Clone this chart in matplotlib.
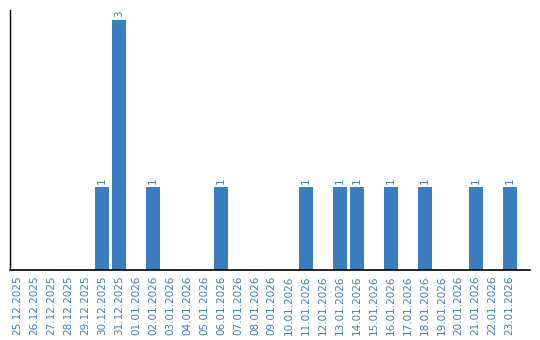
import matplotlib
matplotlib.use("Agg")
import matplotlib.pyplot as plt
import numpy as np

dates = ["25.12.2025", "26.12.2025", "27.12.2025", "28.12.2025", "29.12.2025",
         "30.12.2025", "31.12.2025", "01.01.2026", "02.01.2026", "03.01.2026",
         "04.01.2026", "05.01.2026", "06.01.2026", "07.01.2026", "08.01.2026",
         "09.01.2026", "10.01.2026", "11.01.2026", "12.01.2026", "13.01.2026",
         "14.01.2026", "15.01.2026", "16.01.2026", "17.01.2026", "18.01.2026",
         "19.01.2026", "20.01.2026", "21.01.2026", "22.01.2026", "23.01.2026"]
counts = [0, 0, 0, 0, 0,
          1, 3, 0, 1, 0,
          0, 0, 1, 0, 0,
          0, 0, 1, 0, 1,
          1, 0, 1, 0, 1,
          0, 0, 1, 0, 1]

blue = "#3b7dc2"

fig = plt.figure(figsize=(5.4, 3.4), dpi=100)
ax = fig.add_axes([0.0185, 0.206, 0.963, 0.765])

x = np.arange(len(dates))
ax.bar(x, counts, width=0.82, color=blue)

for xi, c in zip(x, counts):
    if c > 0:
        ax.text(xi, c + 0.03, str(c), rotation=90, ha="center", va="bottom",
                color=blue, fontsize=7.5)

ax.set_xticks(x)
ax.set_xticklabels(dates, rotation=90, color=blue, fontsize=7.5)
ax.tick_params(axis="x", length=0, pad=4)
ax.set_yticks([])
ax.set_xlim(-0.42, 30.2)
ax.set_ylim(0, 3.12)
for s in ["top", "right"]:
    ax.spines[s].set_visible(False)
ax.spines["left"].set_linewidth(1)
ax.spines["bottom"].set_linewidth(1.2)

plt.savefig("out.png", dpi=100)
